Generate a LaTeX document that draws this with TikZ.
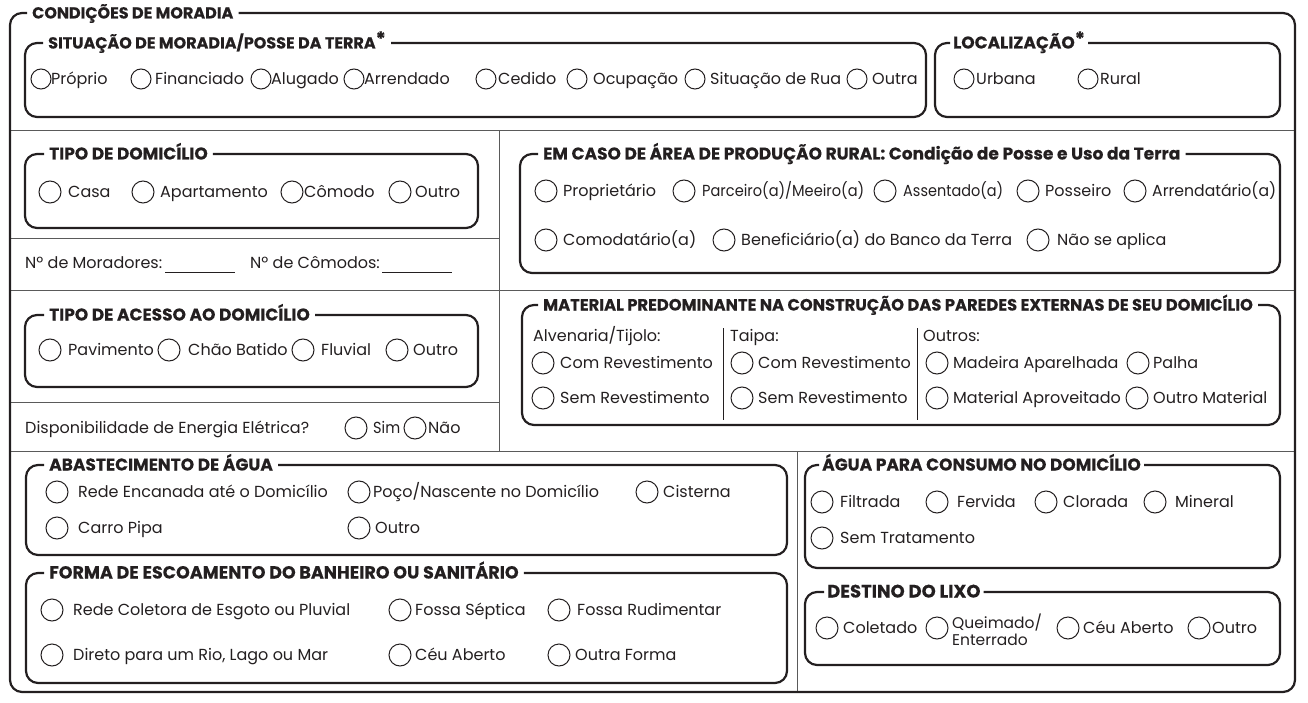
\documentclass[tikz,border=0pt]{standalone}
\usepackage{fontspec}
\setmainfont{Poppins}[BoldFeatures={FakeBold=0.3}]
\definecolor{ink}{RGB}{35,31,32}
\definecolor{rule}{RGB}{90,90,90}
\newcommand\tsz[1]{\fontsize{#1}{#1}\selectfont}
\newcommand\fitw[2]{\resizebox{#1pt}{\height}{#2}}
\newcommand\myast{\raisebox{3pt}{\tsz{19}*}}
\tikzset{
  boxln/.style={draw=ink, line width=2.2pt, rounded corners=12pt},
  sepln/.style={draw=rule, line width=1pt},
  subln/.style={draw=ink, line width=0.9pt},
  ttl/.style={anchor=west, inner xsep=5pt, inner ysep=0pt, text height=11pt, text depth=0pt,
              font=\tsz{17}\bfseries, text=ink},
  radio/.style={circle, draw=ink, line width=1pt, minimum size=22pt, inner sep=0pt},
  small radio/.style={minimum size=20pt},
  optlbl/.style={anchor=west, inner sep=0pt, text height=11pt, text depth=0pt,
                 font=\tsz{16}, text=ink},
}
% option: [style] name, circle x, text x, y, text
\newcommand\opt[6][]{\node[radio,#1] (#2c) at (#3,#5) {}; \node[optlbl] (#2t) at (#4,#5) {#6};}
% framed box: [title style] name, left, top, right, bottom, title, title x
\newcommand\fbx[8][]{\node[ttl,#1] (#2) at (#8,#4) {#7};
  \draw[boxln] (#2.east) -- (#5,#4) -- (#5,#6) -- (#3,#6) -- (#3,#4) -- (#2.west);}
\begin{document}
\begin{tikzpicture}[x=1pt,y=-1pt]
\useasboundingbox (0,0) rectangle (1308,703);

% separators
\draw[sepln] (10,131) -- (1295,131);
\draw[sepln] (499,131) -- (499,451);
\draw[sepln] (10,239) -- (499,239);
\draw[sepln] (10,290) -- (1295,290);
\draw[sepln] (10,402) -- (499,402);
\draw[sepln] (10,451) -- (1295,451);
\draw[sepln] (797,451) -- (797,692);

% outer frame
\fbx[font=\tsz{16}\bfseries]{outer}{10}{13}{1295}{692}{CONDIÇÕES DE MORADIA}{27}

% boxes
\fbx[font=\tsz{16}\bfseries]{sit}{25}{43}{926}{117}{SITUAÇÃO DE MORADIA/POSSE DA TERRA\myast}{43}
\fbx[inner xsep=3pt]{loc}{935}{43}{1280}{117}{LOCALIZAÇÃO\myast}{950}
\fbx{dom}{25}{154}{478}{228}{TIPO DE DOMICÍLIO}{44}
\fbx{ace}{25}{315}{478}{387}{TIPO DE ACESSO AO DOMICÍLIO}{44}
\fbx{rur}{520}{154}{1280}{273}{EM CASO DE ÁREA DE PRODUÇÃO RURAL: Condição de Posse e Uso da Terra}{538}
\fbx[font=\tsz{16.3}\bfseries]{mat}{522}{305}{1280}{425}{MATERIAL PREDOMINANTE NA CONSTRUÇÃO DAS PAREDES EXTERNAS DE SEU DOMICÍLIO}{538}
\fbx{aba}{26}{465}{787}{555}{ABASTECIMENTO DE ÁGUA}{44}
\fbx[font=\tsz{17.5}\bfseries]{esc}{26}{573}{787}{683}{FORMA DE ESCOAMENTO DO BANHEIRO OU SANITÁRIO}{44}
\fbx[inner xsep=3pt]{con}{805}{465}{1280}{568}{ÁGUA PARA CONSUMO NO DOMICÍLIO}{819}
\fbx[inner xsep=3pt, font=\tsz{18}\bfseries]{lixo}{805}{592}{1280}{665}{DESTINO DO LIXO}{824}

% situação de moradia
\opt[small radio]{p1}{41}{51}{79}{Próprio}
\opt[small radio]{p2}{141}{155}{79}{Financiado}
\opt[small radio]{p3}{261}{271}{79}{Alugado}
\opt[small radio]{p4}{354}{364}{79}{Arrendado}
\opt[small radio]{p5}{486}{498}{79}{Cedido}
\opt[small radio]{p6}{577}{593}{79}{Ocupação}
\opt[small radio]{p7}{695}{710}{79}{Situação de Rua}
\opt[small radio]{p8}{857}{872}{79}{Outra}

% localização
\opt[small radio]{l1}{964}{976}{79}{Urbana}
\opt[small radio]{l2}{1088}{1100}{79}{Rural}

% tipo de domicílio
\opt{d1}{50}{68}{192}{Casa}
\opt{d2}{143}{160}{192}{Apartamento}
\opt{d3}{292}{304}{192}{Cômodo}
\opt{d4}{400}{415}{192}{Outro}

% moradores
\node[optlbl] (mor) at (25,263) {Nº de Moradores:};
\draw[subln] (165,272) -- (235,272);
\node[optlbl] (comod) at (250,263) {Nº de Cômodos:};
\draw[subln] (382,272) -- (452,272);

% acesso
\opt{a1}{50}{68}{350}{Pavimento}
\opt{a2}{169}{188}{350}{Chão Batido}
\opt{a3}{303}{321}{350}{Fluvial}
\opt{a4}{397}{413}{350}{Outro}

% energia
\node[optlbl] (ene) at (25,428) {Disponibilidade de Energia Elétrica?};
\opt{e1}{356}{373}{428}{\fitw{27}{Sim}}
\opt{e2}{415}{428}{428}{Não}

% rural
\opt{r1}{546}{563}{191}{Proprietário}
\opt{r2}{684}{702}{191}{\fitw{162}{Parceiro(a)/Meeiro(a)}}
\opt{r3}{885}{903}{191}{\fitw{100}{Assentado(a)}}
\opt{r4}{1028}{1045}{191}{Posseiro}
\opt{r5}{1135}{1152}{191}{\fitw{124}{Arrendatário(a)}}
\opt{r6}{546}{563}{240}{Comodatário(a)}
\opt{r7}{724}{741}{240}{Beneficiário(a) do Banco da Terra}
\opt{r8}{1038}{1057}{240}{Não se aplica}

% material
\node[optlbl] (alv) at (533,336) {Alvenaria/Tijolo:};
\node[optlbl] (tai) at (730,336) {Taipa:};
\node[optlbl] (out) at (923,336) {Outros:};
\draw[subln] (723,328) -- (723,420);
\draw[subln] (917,328) -- (917,420);
\opt{m1}{543}{560}{363}{Com Revestimento}
\opt{m2}{543}{560}{398}{Sem Revestimento}
\opt{m3}{742}{758}{363}{Com Revestimento}
\opt{m4}{742}{758}{398}{Sem Revestimento}
\opt{m5}{937}{953}{363}{Madeira Aparelhada}
\opt{m6}{1138}{1153}{363}{Palha}
\opt{m7}{937}{953}{398}{Material Aproveitado}
\opt{m8}{1137}{1153}{398}{Outro Material}

% abastecimento
\opt{w1}{57}{78}{492}{Rede Encanada até o Domicílio}
\opt{w2}{359}{373}{492}{Poço/Nascente no Domicílio}
\opt{w3}{647}{663}{492}{Cisterna}
\opt{w4}{57}{78}{528}{Carro Pipa}
\opt{w5}{359}{375}{528}{Outro}

% escoamento
\opt{s1}{52}{73}{610}{Rede Coletora de Esgoto ou Pluvial}
\opt{s2}{400}{415}{610}{Fossa Séptica}
\opt{s3}{559}{577}{610}{Fossa Rudimentar}
\opt{s4}{52}{73}{655}{Direto para um Rio, Lago ou Mar}
\opt{s5}{400}{415}{655}{Céu Aberto}
\opt{s6}{559}{575}{655}{Outra Forma}

% água para consumo
\opt{c1}{822}{840}{502}{Filtrada}
\opt{c2}{937}{957}{502}{Fervida}
\opt{c3}{1046}{1063}{502}{Clorada}
\opt{c4}{1155}{1175}{502}{Mineral}
\opt{c5}{822}{840}{538}{Sem Tratamento}

% destino do lixo
\opt{x1}{827}{843}{628}{Coletado}
\node[radio] (x2c) at (937,628) {};
\node[anchor=west, inner sep=0pt, align=left, font=\fontsize{15.5}{17}\selectfont, text=ink] (x2t) at (952,630) {Queimado/\\Enterrado};
\opt{x3}{1068}{1083}{628}{Céu Aberto}
\opt{x4}{1199}{1212}{628}{Outro}
\end{tikzpicture}
\end{document}
